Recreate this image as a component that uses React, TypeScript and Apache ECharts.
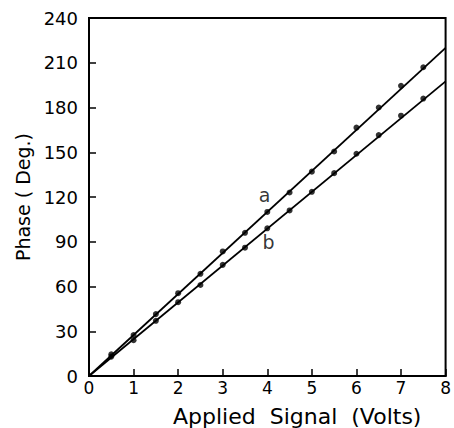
import React, { useEffect, useRef } from "react";
import * as echarts from "echarts";

const pointX = [0.5, 1, 1.5, 2, 2.5, 3, 3.5, 4, 4.5, 5, 5.5, 6, 6.5, 7, 7.5];
const seriesA = [14.5, 27.5, 41.5, 55.5, 68.5, 83.5, 96, 110, 123, 137, 150.5, 166.5, 180, 194.5, 207];
const seriesB = [13, 24, 37, 49.5, 61, 74.5, 86, 99, 111, 123.5, 136, 149, 161.5, 174.5, 186];
const fitA = [[0, 0], [8, 220]];
const fitB = [[0, 0], [8, 197.5]];
const labelA = [3.94, 121.5];
const labelB = [4.03, 89.5];
const xRange = [0, 8, 1];
const yRange = [0, 240, 30];
const xTitle = "Applied  Signal  (Volts)";
const yTitle = "Phase ( Deg.)";

const FONT = "DejaVu Sans";

export default function App() {
  const ref = useRef<HTMLDivElement>(null);
  useEffect(() => {
    if (!ref.current) return;
    const chart = echarts.init(ref.current, null, { renderer: "svg" });
    const axisCommon = {
      type: "value" as const,
      axisLine: { show: true, lineStyle: { color: "#000", width: 2 } },
      axisTick: { show: true, inside: true, length: 7, lineStyle: { color: "#000", width: 1.5 } },
      splitLine: { show: false },
    };
    chart.setOption({
      animation: false,
      backgroundColor: "#fff",
      grid: { left: 89, right: 2, top: 18, bottom: 52, show: true, borderColor: "#000", borderWidth: 2, backgroundColor: "transparent" },
      xAxis: {
        ...axisCommon,
        min: xRange[0], max: xRange[1], interval: xRange[2],
        axisLabel: { color: "#000", fontSize: 17, fontFamily: FONT, margin: 3 },
      },
      yAxis: {
        ...axisCommon,
        min: yRange[0], max: yRange[1], interval: yRange[2],
        axisLabel: { color: "#000", fontSize: 18, fontFamily: FONT, margin: 11 },
        name: yTitle,
        nameLocation: "middle",
        nameGap: 56,
        nameTextStyle: { color: "#000", fontSize: 19, fontFamily: FONT },
      },
      graphic: [
        { type: "text", left: 173, top: 405, style: { text: xTitle, fill: "#000", font: `22px '${FONT}'` } },
      ],
      series: [
        { type: "line", data: fitA, symbol: "none", lineStyle: { color: "#000", width: 1.8 } },
        { type: "line", data: fitB, symbol: "none", lineStyle: { color: "#000", width: 1.8 } },
        { type: "scatter", data: pointX.map((x, i) => [x, seriesA[i]]), symbolSize: 6, itemStyle: { color: "#000" } },
        { type: "scatter", data: pointX.map((x, i) => [x, seriesB[i]]), symbolSize: 6, itemStyle: { color: "#000" } },
        {
          type: "scatter", symbolSize: 0,
          data: [
            { value: labelA, label: { formatter: "a" } },
            { value: labelB, label: { formatter: "b" } },
          ],
          label: { show: true, position: "inside", color: "#000", fontSize: 19, fontFamily: FONT },
        },
      ],
    });
    return () => chart.dispose();
  }, []);
  return <div ref={ref} style={{ position: "fixed", left: 0, top: 0, width: 454, height: 428 }} />;
}
